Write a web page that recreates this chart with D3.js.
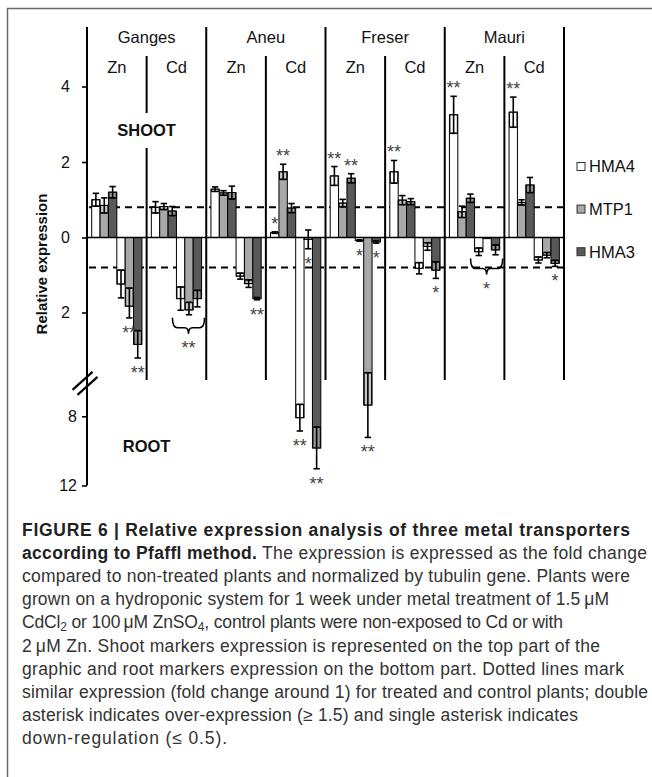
<!DOCTYPE html>
<html>
<head>
<meta charset="utf-8">
<script src="https://cdn.jsdelivr.net/npm/d3@7"></script>
<style>
  body { margin: 0; background: #fff; }
  svg text { font-family: "Liberation Sans", Arial, sans-serif; }
</style>
</head>
<body>
<svg id="fig" width="652" height="777"></svg>
<script>
// categories
const cultivars = ["Ganges", "Aneu", "Freser", "Mauri"];
const metals = ["Zn", "Cd"];
const genes = ["HMA4", "MTP1", "HMA3"];

// rows: Ganges Zn, Ganges Cd, Aneu Zn, Aneu Cd, Freser Zn, Freser Cd, Mauri Zn, Mauri Cd
// columns: HMA4, MTP1, HMA3
const shootMean = [
  [1.00, 0.85, 1.20],
  [0.80, 0.82, 0.70],
  [1.28, 1.18, 1.19],
  [0.13, 1.74, 0.78],
  [1.63, 0.91, 1.57],
  [1.74, 0.99, 0.95],
  [3.25, 0.68, 1.04],
  [3.32, 0.93, 1.39]
];
const shootErr = [
  [0.17, 0.20, 0.15],
  [0.15, 0.08, 0.12],
  [0.06, 0.06, 0.17],
  [0.02, 0.20, 0.12],
  [0.25, 0.10, 0.12],
  [0.30, 0.12, 0.08],
  [0.49, 0.15, 0.11],
  [0.40, 0.07, 0.20]
];
const rootMean = [
  [1.24, 1.83, 3.84],
  [1.63, 1.93, 1.63],
  [1.03, 1.23, 1.63],
  [8.08, 0.05, 9.83],
  [0.08, 7.35, 0.12],
  [0.82, 0.24, 0.87],
  [0.38, 0.03, 0.33],
  [0.60, 0.47, 0.69]
];
const rootErr = [
  [0.37, 0.48, 0.79],
  [0.31, 0.20, 0.22],
  [0.08, 0.10, 0.03],
  [0.77, 0.25, 1.20],
  [0.02, 1.87, 0.03],
  [0.15, 0.10, 0.22],
  [0.10, 0.00, 0.13],
  [0.08, 0.07, 0.08]
];

// tick labels
const shootTicks = [0, 2, 4];
const rootTicksUpper = [2];
const rootTicksLower = [8, 12];
const similarLevel = 0.8;

// significance marks
const shootStars = [
  ["Aneu", "Cd", "HMA4", "*"], ["Aneu", "Cd", "MTP1", "**"],
  ["Freser", "Zn", "HMA4", "**"], ["Freser", "Zn", "HMA3", "**"],
  ["Freser", "Cd", "HMA4", "**"],
  ["Mauri", "Zn", "HMA4", "**"], ["Mauri", "Cd", "HMA4", "**"]
];
const rootStars = [
  ["Ganges", "Zn", "MTP1", "**"], ["Ganges", "Zn", "HMA3", "**"],
  ["Aneu", "Zn", "HMA3", "**"], ["Aneu", "Cd", "HMA4", "**"],
  ["Aneu", "Cd", "MTP1", "*"], ["Aneu", "Cd", "HMA3", "**"],
  ["Freser", "Zn", "HMA4", "*"], ["Freser", "Zn", "MTP1", "**"],
  ["Freser", "Zn", "HMA3", "*"], ["Freser", "Cd", "HMA3", "*"],
  ["Mauri", "Cd", "HMA3", "*"]
];
const rootBraces = [["Ganges", "Cd", "**"], ["Mauri", "Zn", "*"]];

const captionLines = [
  [["FIGURE 6 | Relative expression analysis of three metal transporters", "b"]],
  [["according to Pfaffl method.", "b"], [" The expression is expressed as the fold change", ""]],
  [["compared to non-treated plants and normalized by tubulin gene. Plants were", ""]],
  [["grown on a hydroponic system for 1 week under metal treatment of 1.5\u2009\u03bcM", ""]],
  [["CdCl", ""], ["2", "sub"], [" or 100\u2009\u03bcM ZnSO", ""], ["4", "sub"], [", control plants were non-exposed to Cd or with", ""]],
  [["2\u2009\u03bcM Zn. Shoot markers expression is represented on the top part of the", ""]],
  [["graphic and root markers expression on the bottom part. Dotted lines mark", ""]],
  [["similar expression (fold change around 1) for treated and control plants; double", ""]],
  [["asterisk indicates over-expression (\u2265 1.5) and single asterisk indicates", ""]],
  [["down-regulation (\u2264 0.5).", ""]]
];
// right end of each caption line in the page
const captionEnds = [630, 647, 630, 609, 563, 600, 624, 648, 578, 227];

const colors = d3.scaleOrdinal().domain(genes).range(["#ffffff", "#a8a8a8", "#595959"]);

// layout
const plotLeft = 87, plotRight = 564, plotTop = 27, zeroY = 237.5;
const svg = d3.select("#fig");

svg.append("rect").attr("x", 7.5).attr("y", 8.5).attr("width", 700).attr("height", 800)
  .attr("fill", "none").attr("stroke", "#6a6a6a").attr("stroke-width", 1.5);

const shootY = d3.scaleLinear().domain([0, 4]).range([zeroY, zeroY - 151]);
// root part has a broken axis: 0-2 stretched, 2-12 compressed
const rootY = d3.scaleLinear().domain([0, 2, 12]).range([zeroY, zeroY + 75, zeroY + 248]);

const groupX = d3.scaleBand().domain(cultivars).range([plotLeft, plotRight]);
const metalX = d3.scaleBand().domain(metals).range([0, groupX.bandwidth()]);
const slotX = d3.scaleBand().domain(d3.range(6)).range([0, metalX.bandwidth()]).paddingOuter(0.56);

const sepBottom = rootY(5.9);

// bars data
let bars = [];
cultivars.forEach((c, ci) => metals.forEach((m, mi) => {
  const r = ci * 2 + mi;
  genes.forEach((gn, gi) => {
    bars.push({c, m, g: gn, tissue: "shoot", slot: gi, v: shootMean[r][gi], e: shootErr[r][gi]});
    bars.push({c, m, g: gn, tissue: "root", slot: gi + 3, v: rootMean[r][gi], e: rootErr[r][gi]});
  });
}));
const sc = d => d.tissue == "shoot" ? shootY : rootY;
const bx = d => groupX(d.c) + metalX(d.m) + slotX(d.slot);
const bw = slotX.bandwidth();
const findBar = (c, m, gn, t) => bars.find(b => b.c == c && b.m == m && b.g == gn && b.tissue == t);

// dashed similarity lines
[shootY(similarLevel), rootY(similarLevel)].forEach(y => {
  svg.append("line").attr("x1", plotLeft + 2).attr("x2", plotRight + 3).attr("y1", y).attr("y2", y)
    .attr("stroke", "#000").attr("stroke-width", 2).attr("stroke-dasharray", "7,5");
});

// bars
const gBars = svg.append("g");
gBars.selectAll("rect.bar").data(bars).join("rect")
  .attr("class", "bar")
  .attr("x", bx)
  .attr("width", bw)
  .attr("y", d => Math.min(sc(d)(0), sc(d)(d.v)))
  .attr("height", d => Math.abs(sc(d)(d.v) - sc(d)(0)))
  .attr("fill", d => colors(d.g))
  .attr("stroke", "#000").attr("stroke-width", 1);

// error boxes (lighter part inside the bar)
gBars.selectAll("rect.ebox").data(bars.filter(d => d.e > 0.04)).join("rect")
  .attr("class", "ebox")
  .attr("x", d => bx(d) + 0.5)
  .attr("width", bw - 1)
  .attr("y", d => Math.min(sc(d)(Math.max(0, d.v - d.e)), sc(d)(d.v)))
  .attr("height", d => Math.abs(sc(d)(d.v) - sc(d)(Math.max(0, d.v - d.e))))
  .attr("fill", "#fff").attr("fill-opacity", 0.35)
  .attr("stroke", "#000").attr("stroke-width", 1);

// whiskers
const err = gBars.selectAll("g.err").data(bars.filter(d => d.e > 0)).join("g").attr("class", "err")
  .attr("stroke", "#000").attr("stroke-width", 1.6);
err.append("line")
  .attr("x1", d => bx(d) + bw / 2).attr("x2", d => bx(d) + bw / 2)
  .attr("y1", d => sc(d)(d.v - d.e)).attr("y2", d => sc(d)(d.v + d.e));
[-1, 1].forEach(s => {
  err.append("line")
    .attr("x1", d => bx(d) + 1).attr("x2", d => bx(d) + bw - 1)
    .attr("y1", d => sc(d)(d.v + s * d.e)).attr("y2", d => sc(d)(d.v + s * d.e));
});

// frame lines
svg.append("line").attr("x1", plotLeft).attr("x2", plotRight).attr("y1", zeroY).attr("y2", zeroY)
  .attr("stroke", "#000").attr("stroke-width", 1.6);
cultivars.forEach(c => {
  const x = groupX(c) + groupX.bandwidth();
  svg.append("line").attr("x1", x).attr("x2", x).attr("y1", plotTop).attr("y2", sepBottom)
    .attr("stroke", "#000").attr("stroke-width", 2);
  const xm = groupX(c) + metalX("Cd");
  const segs = c == "Ganges" ? [[56, 113], [148, sepBottom]] : [[56, sepBottom]];
  segs.forEach(s => svg.append("line").attr("x1", xm).attr("x2", xm).attr("y1", s[0]).attr("y2", s[1])
    .attr("stroke", "#000").attr("stroke-width", 2));
  svg.append("text").attr("x", groupX(c) + groupX.bandwidth() / 2).attr("y", 43)
    .attr("text-anchor", "middle").attr("font-size", 16.5).attr("fill", "#111").text(c);
  metals.forEach(m => {
    svg.append("text").attr("x", groupX(c) + metalX(m) + metalX.bandwidth() / 2).attr("y", 73)
      .attr("text-anchor", "middle").attr("font-size", 16.5).attr("fill", "#111").text(m);
  });
});

// y axis
svg.append("line").attr("x1", plotLeft).attr("x2", plotLeft).attr("y1", plotTop).attr("y2", rootY(12))
  .attr("stroke", "#000").attr("stroke-width", 2);
const fmt = d3.format("d");
const axShoot = svg.append("g").attr("transform", `translate(${plotLeft},0)`)
  .call(d3.axisLeft(shootY).tickValues(shootTicks).tickFormat(fmt).tickSize(5).tickPadding(12));
const axRootU = svg.append("g").attr("transform", `translate(${plotLeft},0)`)
  .call(d3.axisLeft(rootY).tickValues(rootTicksUpper).tickFormat(fmt).tickSize(5).tickPadding(12));
const axRootL = svg.append("g").attr("transform", `translate(${plotLeft},0)`)
  .call(d3.axisLeft(rootY).tickValues(rootTicksLower).tickFormat(fmt).tickSize(5).tickPadding(5));
[axShoot, axRootU, axRootL].forEach(a => {
  a.select(".domain").remove();
  a.selectAll(".tick line").attr("stroke-width", 1.6);
  a.selectAll(".tick text").attr("font-size", 16).attr("fill", "#111")
    .attr("font-family", "Liberation Sans, Arial, sans-serif");
});

// axis break marks
const brk = rootY(6.1);
[-2.5, 2.5].forEach(o => {
  svg.append("line").attr("x1", plotLeft - 12 + o).attr("y1", brk + 9 + o)
    .attr("x2", plotLeft + 8 + o).attr("y2", brk - 9 + o)
    .attr("stroke", "#000").attr("stroke-width", 2.2);
});

svg.append("text").attr("transform", `translate(42,264) rotate(-90)`)
  .attr("text-anchor", "middle").attr("dy", "0.35em")
  .attr("font-size", 15).attr("font-weight", "bold").attr("fill", "#111")
  .text("Relative expression");

svg.append("text").attr("x", groupX("Ganges") + metalX("Cd")).attr("y", 136)
  .attr("text-anchor", "middle").attr("font-size", 16.5).attr("font-weight", "bold").attr("fill", "#111")
  .text("SHOOT");
svg.append("text").attr("x", groupX("Ganges") + metalX("Cd")).attr("y", 452)
  .attr("text-anchor", "middle").attr("font-size", 16.5).attr("font-weight", "bold").attr("fill", "#111")
  .text("ROOT");

// stars
const starText = (x, yc, s) => svg.append("text").attr("x", x).attr("y", yc + 10)
  .attr("text-anchor", "middle").attr("font-size", 18).attr("fill", "#444").text(s);
shootStars.forEach(([c, m, gn, s]) => {
  const d = findBar(c, m, gn, "shoot");
  starText(bx(d) + bw / 2, shootY(d.v + d.e) - 12, s);
});
rootStars.forEach(([c, m, gn, s]) => {
  const d = findBar(c, m, gn, "root");
  starText(bx(d) + bw / 2, rootY(d.v + d.e) + 11, s);
});
rootBraces.forEach(([c, m, s]) => {
  const grp = bars.filter(b => b.c == c && b.m == m && b.tissue == "root");
  const x0 = d3.min(grp, bx) - 4, x1 = d3.max(grp, bx) + bw + 3, xm = (x0 + x1) / 2;
  const yT = d3.max(grp, b => rootY(b.v + b.e)) + 3, yL = yT + 10;
  svg.append("path")
    .attr("d", `M${x0},${yT} Q${x0},${yL} ${x0 + 5},${yL} L${xm - 4},${yL} Q${xm},${yL} ${xm},${yL + 6}` +
      ` Q${xm},${yL} ${xm + 4},${yL} L${x1 - 5},${yL} Q${x1},${yL} ${x1},${yT}`)
    .attr("fill", "none").attr("stroke", "#000").attr("stroke-width", 1.6);
  starText(xm, yL + 16, s);
});

// legend
genes.forEach((gn, i) => {
  const yc = 166.5 + i * 42.6;
  svg.append("rect").attr("x", 577).attr("y", yc - 4).attr("width", 8).attr("height", 8)
    .attr("fill", colors(gn)).attr("stroke", "#333").attr("stroke-width", 1);
  svg.append("text").attr("x", 589).attr("y", yc).attr("dy", "0.36em")
    .attr("font-size", 16.5).attr("fill", "#111").text(gn);
});

// caption
captionLines.forEach((line, i) => {
  const t = svg.append("text").attr("x", 22).attr("y", 536 + i * 23.1)
    .attr("font-size", 17.5).attr("fill", "#333")
    .attr("textLength", captionEnds[i] - 22).attr("lengthAdjust", "spacing");
  line.forEach(([txt, kind]) => {
    const sp = t.append("tspan").text(txt);
    if (kind == "b") sp.attr("font-weight", "bold").attr("fill", "#222");
    if (kind == "sub") sp.attr("font-size", 12).attr("baseline-shift", "-25%");
  });
});
</script>
</body>
</html>
